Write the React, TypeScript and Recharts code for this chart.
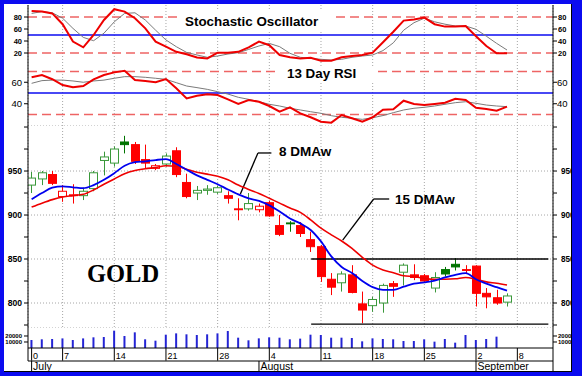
import React from "react";
import { ComposedChart, Line, Bar, XAxis, YAxis, CartesianGrid, ReferenceLine } from "recharts";

// Gold, daily bars 1 Jul – 5 Sep
const OPEN = [934, 941, 946, 921, 922, 922, 930, 962, 959, 983, 980, 963, 953, 958, 973, 937, 925, 928, 926, 922, 907, 907, 906, 914, 888, 891, 888, 872, 864, 827, 823, 832, 799, 797, 800, 822, 835, 832, 831, 817, 838, 844, 838, 842, 811, 806, 801];
const HIGH = [949, 950, 950, 934, 935, 931, 950, 972, 978, 990, 983, 980, 958, 970, 977, 947, 933, 934, 933, 927, 919, 925, 913, 916, 900, 893, 892, 881, 866, 834, 836, 843, 813, 807, 822, 825, 845, 844, 833, 835, 841, 851, 843, 843, 817, 815, 811];
const LOW = [925, 934, 934, 915, 913, 917, 927, 945, 955, 970, 958, 953, 951, 955, 943, 919, 917, 923, 924, 913, 894, 905, 903, 898, 876, 881, 875, 858, 824, 809, 813, 811, 777, 790, 789, 807, 820, 826, 824, 812, 830, 837, 834, 796, 794, 798, 796];
const CLOSE = [942, 948, 936, 927, 923, 927, 948, 966, 975, 980, 961, 959, 956, 967, 946, 921, 928, 929.5, 931, 919, 906, 913, 910, 899, 878, 890, 879, 864, 830, 818, 833, 812, 792, 804, 820, 819, 843, 829, 825, 829, 833, 841, 837, 811, 807, 800, 808];
const MA8 = [918, 925, 931, 932.5, 931.5, 930.5, 934, 940, 947.5, 956, 960, 961, 962.5, 963.5, 958, 951.5, 945, 940, 935, 929, 923.5, 919, 916, 911, 904, 896, 890.5, 883, 870, 853, 841, 834, 825, 818, 815, 815, 818.5, 822, 823.5, 825.5, 829, 832, 834, 827, 822, 818, 814];
const MA15 = [909, 913.5, 917.5, 920.5, 922, 923.5, 928.5, 935, 941, 947, 950.5, 952.5, 954, 956, 955.5, 952, 948.5, 946.5, 944, 940, 934, 929, 924.5, 919, 913.5, 908, 903, 894.5, 885, 877.5, 870.5, 862, 852, 843, 837.5, 834.5, 831, 830, 828, 827, 827, 827.5, 829, 827, 824, 822.5, 820.5];
const STOCH_K = [90, 89, 86, 68, 39, 29.5, 50, 75, 93, 89, 78, 61, 39, 30.5, 22, 18, 12.5, 11, 20.5, 20.5, 22, 29.5, 39, 33, 16.7, 12.8, 11, 12, 7, 7, 12.8, 15, 16.7, 20.5, 38, 55.5, 74, 76, 79, 68, 64, 64, 65, 48, 31.7, 19.5, 19.5];
const STOCH_D = [86, 89, 87, 78, 61, 46, 40.5, 53, 72, 86, 87, 75, 58, 41.7, 30.5, 21, 16.7, 12.8, 15, 18.3, 20.5, 26, 31.7, 36, 30.5, 19.5, 12.8, 11, 9.5, 8.3, 9.5, 12.8, 15, 16.7, 24, 37, 58, 70.5, 78, 72, 68, 65, 65, 59.5, 48, 36, 25];
const RSI13 = [64.6, 66.7, 62.8, 57.4, 55.3, 56.5, 62.7, 66.7, 69.2, 70.7, 62, 61.2, 60, 63, 54.4, 45, 47.5, 48.8, 48.1, 44.1, 39.8, 43.5, 41.9, 37.9, 32.6, 36.7, 31.1, 27.4, 23.3, 22.4, 29.5, 26.5, 23.3, 27.4, 34.5, 34.8, 42.8, 39.8, 38.8, 39.8, 41, 44.7, 43.5, 36.3, 35.1, 33.5, 37.3];
const RSI_AVG = [59, 61.5, 62, 62, 61.2, 60, 61.2, 62, 63.7, 65.2, 65.2, 64.6, 63.7, 62.7, 59.6, 56.5, 55, 53.4, 51.2, 49, 46, 44.1, 41.9, 39.5, 37.9, 35.8, 34.2, 32.6, 31.1, 28.9, 27.4, 26.5, 25.5, 27, 29, 31.7, 34.2, 35.8, 36.7, 37.9, 39.5, 41, 41.9, 40.4, 38.8, 37.9, 37.3];
const VOLUME = [13300, 14500, 15000, 16000, 13300, 16000, 17800, 18300, 28900, 20000, 26100, 14500, 12200, 22200, 24400, 22800, 21700, 22800, 24400, 28300, 17200, 12800, 16100, 17800, 17200, 14500, 15600, 22200, 21700, 17200, 17200, 16700, 11100, 16100, 15000, 14500, 11700, 11700, 14500, 10600, 15000, 8900, 21700, 13300, 15000, 18900];

const DAY_TICKS = [0, 3, 8, 13, 18, 23, 28, 33, 38, 43, 47];
const DAY_LABELS = ["0", "7", "14", "21", "28", "4", "11", "18", "25", "2", "8"];
const MONTH_TICKS = [0, 22, 43];
const MONTH_LABELS = ["July", "August", "September"];
const GRID_X = [3, 8, 13, 18, 23, 28, 33, 38, 43, 47];

const STOCH_TICKS = [20, 40, 60, 80];
const RSI_TICKS = [40, 60];
const PRICE_TICKS = [775, 800, 825, 850, 875, 900, 925, 950, 975, 1000];
const PRICE_LABELS = [800, 850, 900, 950];
const VOL_TICKS = [10000, 20000];
const SUPPORT = [850, 776];

// annotation leaders: [day index, price]
const LEADER_8 = [[20.2, 924], [21.9, 970.5], [23.2, 970.5]];
const LEADER_15 = [[30.1, 871.5], [33.1, 918.2], [34.6, 918.2]];

const X_MIN = -0.35;
const X_MAX = 50.45;
const RSI_DOMAIN = [20.23, 76.05];
const PRICE_DOMAIN = [771.6, 1002.3];
const VOL_MAX = 33333;

const FONT = "Arial, 'Liberation Sans', sans-serif";
const GREEN = "#3a983a";
const DARK_GREEN = "#007400";
const RED = "#ff0000";
const BLUE = "#0b0bf0";
const DASH_RED = "#ee6464";

const rows = CLOSE.map((c, i) => ({
  i,
  open: OPEN[i],
  high: HIGH[i],
  low: LOW[i],
  close: c,
  ma8: MA8[i],
  ma15: MA15[i],
  k: STOCH_K[i],
  d: STOCH_D[i],
  rsi: RSI13[i],
  rsiAvg: RSI_AVG[i],
  volume: VOLUME[i] ?? null,
  hollow: c >= OPEN[i],
  up: i === 0 ? c >= OPEN[i] : c >= CLOSE[i - 1],
}));

function Candle(props: any) {
  const { x, y, width, height, payload } = props;
  if (!payload || x == null || y == null) return null;
  const top = Math.min(y, y + height);
  const span = Math.abs(height);
  const ppu = span / (payload.high - payload.low);
  const py = (v: number) => top + (payload.high - v) * ppu;
  const cx = Math.round(x + width / 2) + 0.5;
  const color = payload.up ? (payload.hollow ? GREEN : DARK_GREEN) : RED;
  const bTop = py(Math.max(payload.open, payload.close));
  const bBot = py(Math.min(payload.open, payload.close));
  return (
    <g>
      <line x1={cx} x2={cx} y1={top} y2={top + span} stroke={color} />
      <rect x={cx - 4} y={bTop} width={8} height={Math.max(bBot - bTop, 0.8)} fill={payload.hollow ? "#fff" : color} stroke={color} />
    </g>
  );
}

function DayTick({ x, y, payload }: any) {
  const label = DAY_LABELS[DAY_TICKS.indexOf(payload.value)];
  return (
    <g>
      <line x1={x} x2={x} y1={y} y2={y + 12.7} stroke="#000" />
      <text x={x + 1.5} y={y + 11.1} fontSize={9} fontFamily={FONT} fill="#000">{label}</text>
    </g>
  );
}

function MonthTick({ x, y, payload }: any) {
  const label = MONTH_LABELS[MONTH_TICKS.indexOf(payload.value)];
  return (
    <g>
      <line x1={x} x2={x} y1={y} y2={y + 11} stroke="#000" />
      <text x={x + 1.5} y={y + 9.2} fontSize={10.5} fontFamily={FONT} fill="#000">{label}</text>
    </g>
  );
}

const black = { stroke: "#000" };
const margin0 = { top: 0, right: 0, bottom: 0, left: 0 };
const tickFont = (size: number, weight = 600) => ({ fontSize: size, fill: "#000", fontFamily: FONT, fontWeight: weight });
const hiddenX = <XAxis dataKey="i" type="number" domain={[X_MIN, X_MAX]} ticks={GRID_X} hide allowDataOverflow />;
const grid = <CartesianGrid horizontal={false} stroke="#a6a6a6" strokeDasharray="1 2" />;
const box = (top: number, height: number): React.CSSProperties => ({ position: "absolute", left: 0, top, width: 582, height });

export default function App() {
  const priceLabel = (v: number) => (PRICE_LABELS.includes(v) ? String(v) : "");
  return (
    <div style={{ position: "relative", width: 582, height: 376, background: "#fff", overflow: "hidden" }}>
      <style>{"body{margin:0}"}</style>

      {/* stochastic */}
      <div style={box(0, 65)}>
        <ComposedChart width={582} height={65} data={rows} margin={{ top: 5, right: 0, bottom: 0, left: 0 }}>
          {grid}
          {hiddenX}
          <YAxis domain={[0, 100]} ticks={STOCH_TICKS} interval={0} width={28} tickSize={4} axisLine={black} tickLine={black} tick={tickFont(7.5, 700)} allowDataOverflow />
          <YAxis yAxisId="r" orientation="right" domain={[0, 100]} ticks={STOCH_TICKS} interval={0} width={29} tickSize={4} tickMargin={1} axisLine={black} tickLine={black} tick={tickFont(7.5, 700)} allowDataOverflow />
          <ReferenceLine y={80} stroke={DASH_RED} strokeWidth={1.3} strokeDasharray="9 5" />
          <ReferenceLine y={20} stroke={DASH_RED} strokeWidth={1.3} strokeDasharray="9 5" />
          <ReferenceLine y={50} stroke={BLUE} strokeWidth={1.5} />
          <Line dataKey="d" type="linear" stroke="#7a7a7a" strokeWidth={1} dot={false} isAnimationActive={false} />
          <Line dataKey="k" type="linear" stroke="#ee0000" strokeWidth={2} dot={false} isAnimationActive={false} />
        </ComposedChart>
      </div>

      {/* RSI */}
      <div style={box(65, 60)}>
        <ComposedChart width={582} height={60} data={rows} margin={margin0}>
          {grid}
          {hiddenX}
          <YAxis domain={RSI_DOMAIN} ticks={RSI_TICKS} interval={0} width={28} tickSize={4} axisLine={black} tickLine={black} tick={tickFont(9.5, 400)} allowDataOverflow />
          <YAxis yAxisId="r" orientation="right" domain={RSI_DOMAIN} ticks={RSI_TICKS} interval={0} width={29} tickSize={4} tickMargin={0} axisLine={black} tickLine={black} tick={tickFont(9.5, 400)} allowDataOverflow />
          <ReferenceLine y={70} stroke={DASH_RED} strokeWidth={1.3} strokeDasharray="9 5" />
          <ReferenceLine y={30} stroke={DASH_RED} strokeWidth={1.3} strokeDasharray="9 5" />
          <ReferenceLine y={50} stroke={BLUE} strokeWidth={1.5} />
          <Line dataKey="rsiAvg" type="linear" stroke="#7a7a7a" strokeWidth={1} dot={false} isAnimationActive={false} />
          <Line dataKey="rsi" type="linear" stroke="#ee0000" strokeWidth={2} dot={false} isAnimationActive={false} />
        </ComposedChart>
      </div>

      {/* price */}
      <div style={box(125, 203)}>
        <ComposedChart width={582} height={203} data={rows} margin={margin0}>
          <CartesianGrid yAxisId="g" stroke="#a6a6a6" strokeDasharray="1 2" />
          {hiddenX}
          <YAxis domain={PRICE_DOMAIN} ticks={PRICE_TICKS} interval={0} tickFormatter={priceLabel} width={28} tickSize={4} axisLine={black} tickLine={black} tick={tickFont(8.6)} allowDataOverflow />
          <YAxis yAxisId="r" orientation="right" domain={PRICE_DOMAIN} ticks={PRICE_TICKS} interval={0} tickFormatter={priceLabel} width={29} tickSize={4} tickMargin={4} axisLine={black} tickLine={black} tick={tickFont(8.2)} allowDataOverflow />
          <YAxis yAxisId="g" domain={PRICE_DOMAIN} ticks={PRICE_LABELS} hide allowDataOverflow />
          {SUPPORT.map((lvl) => (
            <ReferenceLine key={lvl} segment={[{ x: 27.05, y: lvl }, { x: 50, y: lvl }]} stroke="#000" strokeWidth={1.3} ifOverflow="visible" />
          ))}
          {[LEADER_8, LEADER_15].flatMap((pts, n) =>
            pts.slice(1).map((p, j) => (
              <ReferenceLine key={`${n}-${j}`} segment={[{ x: pts[j][0], y: pts[j][1] }, { x: p[0], y: p[1] }]} stroke="#000" strokeWidth={1.3} ifOverflow="visible" />
            ))
          )}
          <Bar dataKey={(d: any) => [d.low, d.high]} barSize={8} shape={Candle} isAnimationActive={false} />
          <Line dataKey="ma15" type="monotone" stroke="#ee0000" strokeWidth={1.6} dot={false} isAnimationActive={false} />
          <Line dataKey="ma8" type="monotone" stroke="#0000ee" strokeWidth={1.8} dot={false} isAnimationActive={false} />
        </ComposedChart>
      </div>

      {/* volume + date axes */}
      <div style={box(328, 48)}>
        <ComposedChart width={582} height={48} data={rows} margin={{ top: 0, right: 0, bottom: 4, left: 0 }}>
          <XAxis dataKey="i" type="number" domain={[X_MIN, X_MAX]} ticks={DAY_TICKS} interval={0} height={13} tickSize={0} tickMargin={0} axisLine={black} tickLine={false} tick={<DayTick />} allowDataOverflow />
          <XAxis xAxisId="m" dataKey="i" type="number" domain={[X_MIN, X_MAX]} ticks={MONTH_TICKS} interval={0} height={11} tickSize={0} tickMargin={0} axisLine={black} tickLine={false} tick={<MonthTick />} allowDataOverflow />
          <YAxis domain={[0, VOL_MAX]} ticks={VOL_TICKS} interval={0} width={28} tickSize={4} axisLine={black} tickLine={black} tick={tickFont(6)} allowDataOverflow />
          <YAxis yAxisId="r" orientation="right" domain={[0, VOL_MAX]} ticks={VOL_TICKS} interval={0} width={29} tickSize={4} tickMargin={1} axisLine={black} tickLine={black} tick={tickFont(6)} allowDataOverflow />
          <Bar dataKey="volume" fill="#2424d4" barSize={2} isAnimationActive={false} />
        </ComposedChart>
      </div>

      {/* titles, annotations and frame */}
      <svg width={582} height={376} style={{ position: "absolute", left: 0, top: 0, pointerEvents: "none" }}>
        <rect x={177} y={10} width={157} height={20} fill="#fff" />
        <text x={185} y={26} fontFamily={FONT} fontWeight="bold" fontSize={13.4} fill="#000">Stochastic Oscillator</text>
        <rect x={280} y={66} width={95} height={15} fill="#fff" />
        <text x={287} y={78} fontFamily={FONT} fontWeight="bold" fontSize={13.4} fill="#000">13 Day RSI</text>
        <text x={279} y={155.7} fontFamily={FONT} fontWeight="bold" fontSize={13.5} fill="#000">8 DMAw</text>
        <text x={395} y={203.5} fontFamily={FONT} fontWeight="bold" fontSize={13.5} fill="#000">15 DMAw</text>
        <text x={87} y={281.7} fontFamily="'Times New Roman', 'Liberation Serif', serif" fontWeight="bold" fontSize={24.5} fill="#000">GOLD</text>
        <line x1={28} x2={28} y1={348} y2={361} stroke="#000" />
        <line x1={553} x2={553} y1={348} y2={372} stroke="#000" />
        <line x1={571.5} x2={571.5} y1={4} y2={372} stroke="#000" />
        <line x1={4} x2={572} y1={371.5} y2={371.5} stroke="#000" />
        <rect x={0} y={0} width={582} height={4} fill={BLUE} />
        <rect x={0} y={0} width={4} height={376} fill={BLUE} />
        <rect x={572} y={0} width={10} height={376} fill={BLUE} />
        <rect x={0} y={372} width={582} height={4} fill={BLUE} />
      </svg>
    </div>
  );
}
